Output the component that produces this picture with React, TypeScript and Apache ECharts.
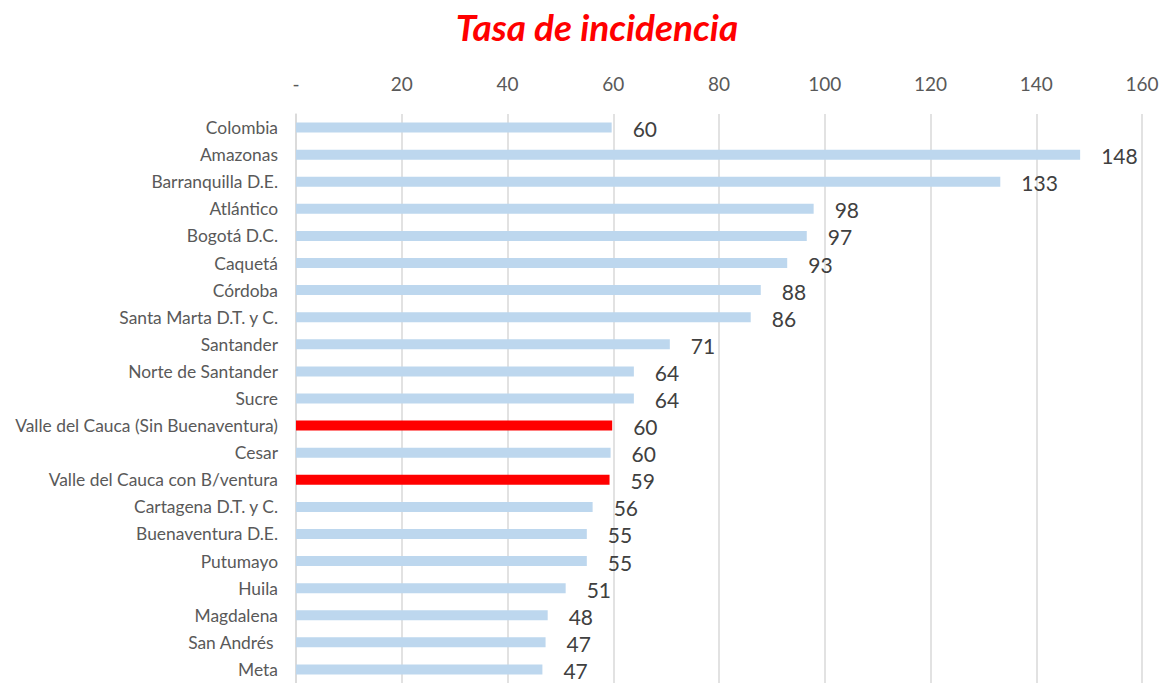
import React, { useEffect, useRef } from "react";
import * as echarts from "echarts";

const categories = [
  "Colombia",
  "Amazonas",
  "Barranquilla D.E.",
  "Atlántico",
  "Bogotá D.C.",
  "Caquetá",
  "Córdoba",
  "Santa Marta D.T. y C.",
  "Santander",
  "Norte de Santander",
  "Sucre",
  "Valle del Cauca (Sin Buenaventura)",
  "Cesar",
  "Valle del Cauca con B/ventura",
  "Cartagena D.T. y C.",
  "Buenaventura D.E.",
  "Putumayo",
  "Huila",
  "Magdalena",
  "San Andrés ",
  "Meta",
];

const values = [
  59.7, 148.3, 133.2, 97.9, 96.6, 92.9, 87.9, 86.0, 70.7, 63.9, 63.9, 59.8, 59.5,
  59.3, 56.1, 55.0, 55.0, 51.0, 47.6, 47.2, 46.6,
];

const highlighted = [
  "Valle del Cauca (Sin Buenaventura)",
  "Valle del Cauca con B/ventura",
];

const xTicks = { min: 0, max: 160, interval: 20 };

const FONT = "Lato, 'Open Sans', sans-serif";

export default function App() {
  const ref = useRef<HTMLDivElement>(null);

  useEffect(() => {
    if (!ref.current) return;
    const chart = echarts.init(ref.current, null, { renderer: "svg" });
    chart.setOption({
      animation: false,
      backgroundColor: "#ffffff",
      title: {
        text: "Tasa de incidencia",
        left: 592,
        top: 3,
        textAlign: "center",
        textStyle: {
          color: "#ff0000",
          fontSize: 37,
          fontWeight: "bold",
          fontStyle: "italic",
          fontFamily: FONT,
        },
      },
      grid: {
        left: 296,
        right: 23,
        top: 114,
        bottom: -3,
        containLabel: false,
      },
      xAxis: {
        type: "value",
        position: "top",
        min: xTicks.min,
        max: xTicks.max,
        interval: xTicks.interval,
        axisLine: { show: false },
        axisTick: { show: false },
        axisLabel: {
          color: "#595959",
          fontSize: 19,
          fontFamily: FONT,
          margin: 21,
          formatter: (v: number) => (v === 0 ? "-" : String(v)),
        },
        splitLine: { show: true, lineStyle: { color: "#d9d9d9", width: 1.5 } },
      },
      yAxis: {
        type: "category",
        inverse: true,
        data: categories,
        axisLine: { show: true, lineStyle: { color: "#d9d9d9", width: 1.5 } },
        axisTick: { show: false },
        axisLabel: {
          color: "#595959",
          fontSize: 17.4,
          fontFamily: FONT,
          margin: 18,
        },
      },
      series: [
        {
          type: "bar",
          barWidth: 10,
          data: values.map((v, i) => ({
            value: v,
            itemStyle: {
              color: highlighted.includes(categories[i]) ? "#ff0000" : "#bdd7ee",
            },
          })),
          label: {
            show: true,
            position: "right",
            distance: 21,
            offset: [0, 1],
            color: "#404040",
            fontSize: 21,
            fontFamily: FONT,
            formatter: (p: any) => String(Math.round(p.value)),
          },
        },
      ],
    });
    return () => chart.dispose();
  }, []);

  return (
    <div
      ref={ref}
      style={{ position: "absolute", left: 0, top: 0, width: 1165, height: 683 }}
    />
  );
}
